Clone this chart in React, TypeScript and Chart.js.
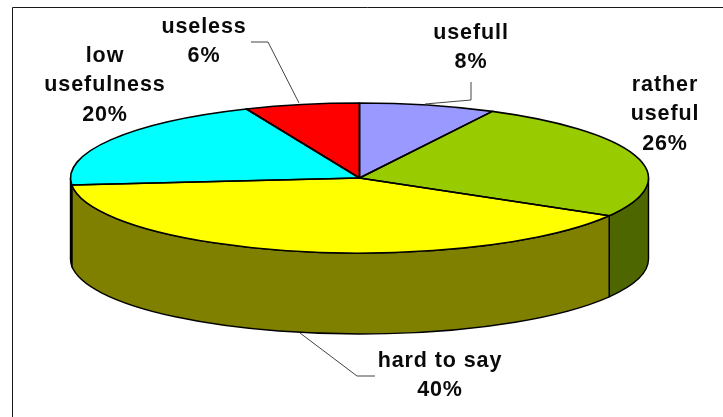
import React, { useEffect, useRef } from "react";
import { Chart, registerables } from "chart.js";

Chart.register(...registerables);

const categories = ["usefull", "rather useful", "hard to say", "low usefulness", "useless"];
const shares = [7.6, 25.8, 40.1, 20.1, 6.4];
const topColors = ["#9999FF", "#99CC00", "#FFFF00", "#00FFFF", "#FF0000"];
const sideColors = ["#4D4D80", "#4D6600", "#808000", "#008080", "#800000"];

// Layout of the picture (not data)
const RX = 289;
const RY = 75;
const CX = 359.5;
const CY = 178;
const DEPTH = 81;
const FONT = 'bold 21.5px "Liberation Sans", Arial, sans-serif';
const labelLayout = [
  { x: 471, y: 33, wrap: false },
  { x: 665, y: 85, wrap: true },
  { x: 440, y: 361, wrap: false },
  { x: 105, y: 56, wrap: true },
  { x: 204, y: 27, wrap: false },
];
const leaders = [
  [[471, 82], [471, 100], [425, 104]],
  null,
  [[300, 333], [357, 376], [375, 376]],
  null,
  [[251, 42], [268, 42], [299, 103]],
];

const pie3d = {
  id: "pie3d",
  beforeDatasetsDraw(chart: any) {
    const { ctx, width, height } = chart;
    ctx.save();
    ctx.fillStyle = "#fff";
    ctx.fillRect(0, 0, width, height);
    ctx.strokeStyle = "#1a1a1a";
    ctx.lineWidth = 1;
    ctx.beginPath();
    ctx.moveTo(12.5, height);
    ctx.lineTo(12.5, 7.5);
    ctx.lineTo(width, 7.5);
    ctx.stroke();

    // side wall of every slice that faces the viewer
    const arcs = chart.getDatasetMeta(0).data;
    arcs.forEach((arc: any, i: number) => {
      const s = Math.max(arc.startAngle, 0);
      const e = Math.min(arc.endAngle, Math.PI);
      if (e <= s) return;
      ctx.beginPath();
      ctx.ellipse(CX, CY, RX, RY, 0, s, e);
      ctx.ellipse(CX, CY + DEPTH, RX, RY, 0, e, s, true);
      ctx.closePath();
      ctx.fillStyle = sideColors[i];
      ctx.fill();
      ctx.strokeStyle = "#000";
      ctx.lineWidth = 1.4;
      ctx.stroke();
    });
    ctx.restore();

    // squash the flat pie into the ellipse of the top face
    ctx.save();
    ctx.translate(CX, CY);
    ctx.scale(1, RY / RX);
    ctx.translate(-CX, -CY);
  },
  afterDatasetsDraw(chart: any) {
    const { ctx } = chart;
    ctx.restore();
    ctx.save();
    const arcs = chart.getDatasetMeta(0).data;
    ctx.strokeStyle = "#000";
    ctx.lineWidth = 1.6;
    ctx.lineJoin = "round";
    arcs.forEach((arc: any) => {
      ctx.beginPath();
      ctx.moveTo(CX, CY);
      ctx.ellipse(CX, CY, RX, RY, 0, arc.startAngle, arc.endAngle);
      ctx.closePath();
      ctx.stroke();
    });

    ctx.strokeStyle = "#444";
    ctx.lineWidth = 1;
    leaders.forEach((pts) => {
      if (!pts) return;
      ctx.beginPath();
      pts.forEach(([x, y], j) => (j ? ctx.lineTo(x, y) : ctx.moveTo(x, y)));
      ctx.stroke();
    });

    ctx.fillStyle = "#0a0a0a";
    ctx.font = FONT;
    ctx.letterSpacing = "0.9px";
    ctx.textAlign = "center";
    ctx.textBaseline = "middle";
    categories.forEach((name, i) => {
      const { x, y, wrap } = labelLayout[i];
      const lines = (wrap ? name.split(" ") : [name]).concat(`${Math.round(shares[i])}%`);
      lines.forEach((line, j) => ctx.fillText(line, x, y + j * 29.5));
    });
    ctx.restore();
  },
};

export default function App() {
  const ref = useRef<HTMLCanvasElement | null>(null);
  useEffect(() => {
    const chart = new Chart(ref.current as HTMLCanvasElement, {
      type: "pie",
      data: {
        labels: categories,
        datasets: [
          {
            data: shares,
            backgroundColor: topColors,
            borderWidth: 0,
            clip: false,
          } as any,
        ],
      },
      options: {
        responsive: false,
        animation: false,
        radius: RX,
        layout: { padding: { left: 0, right: 723 - 2 * CX, top: 0, bottom: 417 - 2 * CY } },
        plugins: { legend: { display: false }, tooltip: { enabled: false }, title: { display: false } },
      } as any,
      plugins: [pie3d],
    });
    return () => chart.destroy();
  }, []);
  return (
    <canvas
      ref={ref}
      width={723}
      height={417}
      style={{ position: "fixed", left: 0, top: 0, display: "block" }}
    />
  );
}
